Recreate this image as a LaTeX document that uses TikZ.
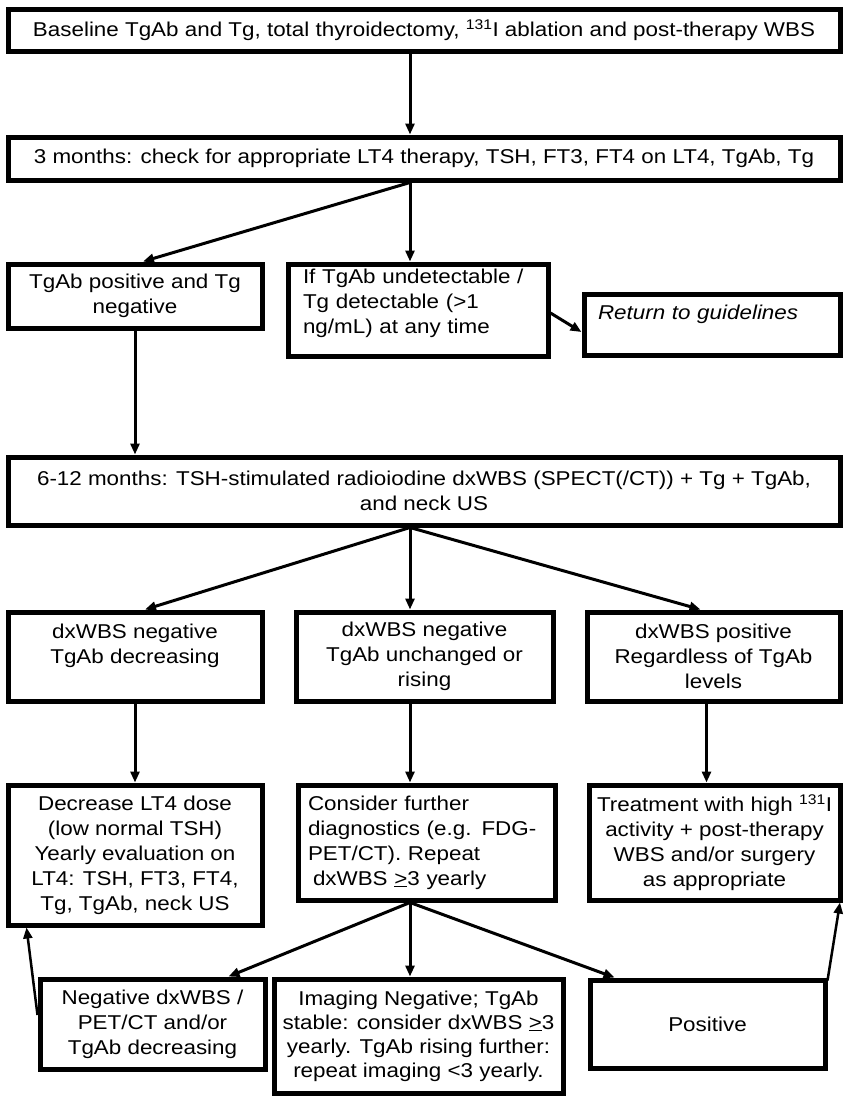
\documentclass[tikz,border=0pt]{standalone}
\usepackage{fontspec}
\setmainfont{Liberation Sans}[FakeStretch=1.12]
\usetikzlibrary{arrows.meta}

\begin{document}
\begin{tikzpicture}[x=1pt, y=-1pt,
    box/.style={draw, line width=5pt, align=center, inner sep=3pt, font=\fontsize{20}{25}\selectfont},
    arr/.style={line width=3pt, -{Triangle[length=11pt, width=9pt]}}]
    \useasboundingbox (0,0) rectangle (845,1096);
    \coordinate (spine) at (410,0);

    \node[box, minimum width=832, minimum height=42] (base) at (424,30) {Baseline TgAb and Tg, total thyroidectomy, \textsuperscript{131}I ablation and post-therapy WBS};
    \node[box, minimum width=832, minimum height=43] (check) at (424,158.5) {3 months: check for appropriate LT4 therapy, TSH, FT3, FT4 on LT4, TgAb, Tg};

    \node[box, minimum width=254, minimum height=64] (pos) at (135,296) {TgAb positive and Tg\\negative};
    \node[box, align=left, text width=230, inner xsep=15, minimum height=92] (undet) at (418,310) {If TgAb undetectable /\\Tg detectable (>1\\ng/mL) at any time\\[-8pt]\mbox{}};
    \node[box, align=left, text width=228, inner xsep=14, minimum height=61, font=\fontsize{20}{25}\selectfont\itshape] (guide) at (712,324.5) {Return to guidelines\\\mbox{}};

    \node[box, minimum width=832, minimum height=68] (scan) at (424,491) {6-12 months: TSH-stimulated radioiodine dxWBS (SPECT(/CT)) + Tg + TgAb,\\and neck US};

    \node[box, minimum width=254, minimum height=89] (negdec) at (135,656.5) {dxWBS negative\\TgAb decreasing\\\mbox{}};
    \node[box, minimum width=257, minimum height=89] (negrise) at (424.5,656.5) {dxWBS negative\\TgAb unchanged or\\rising};
    \node[box, minimum width=253, minimum height=89] (posall) at (713.5,656.5) {dxWBS positive\\Regardless of TgAb\\levels};

    \node[box, minimum width=254, minimum height=140] (lower) at (135,855) {Decrease LT4 dose\\(low normal TSH)\\Yearly evaluation on\\LT4: TSH, FT3, FT4,\\Tg, TgAb, neck US};
    \node[box, align=left, text width=237, inner xsep=10, minimum height=115] (further) at (426.5,842.5) {Consider further\\\mbox{diagnostics (e.g. FDG-}\\PET/CT). Repeat\\\hspace*{5pt}dxWBS \underline{>}3 yearly};
    \node[box, minimum width=251, minimum height=115] (treat) at (714.5,842.5) {Treatment with high \textsuperscript{131}I\\activity + post-therapy\\WBS and/or surgery\\as appropriate};

    \node[box, minimum width=225, minimum height=90] (stop) at (152.5,1024) {Negative dxWBS /\\PET/CT and/or\\TgAb decreasing};
    \node[box, minimum width=289, minimum height=114, font=\fontsize{20}{24}\selectfont] (watch) at (418.5,1036) {Imaging Negative; TgAb\\stable: consider dxWBS \underline{>}3\\yearly. TgAb rising further:\\repeat imaging <3 yearly.};
    \node[box, minimum width=235, minimum height=88] (found) at (707.5,1024) {Positive};

    \draw[arr] (base.south -| spine) -- (check.north -| spine);
    \draw[arr] (check.south -| spine) -- ([xshift=8pt]pos.north);
    \draw[arr] (check.south -| spine) -- (undet.north -| spine);
    \draw[arr] ([yshift=-3pt]undet.east) -- ([yshift=-7.5pt]guide.west);
    \draw[arr] (pos.south) -- (pos.south |- scan.north);
    \draw[arr] (scan.south -| spine) -- ([xshift=10pt]negdec.north);
    \draw[arr] (scan.south -| spine) -- (negrise.north -| spine);
    \draw[arr] (scan.south -| spine) -- ([xshift=-13pt]posall.north);
    \draw[arr] (negdec.south) -- (lower.north);
    \draw[arr] (negrise.south -| spine) -- (further.north -| spine);
    \draw[arr] ([xshift=-7pt]posall.south) -- ([xshift=-8pt]treat.north);
    \draw[arr] (further.south -| spine) -- ([xshift=-39pt]stop.north east);
    \draw[arr] (further.south -| spine) -- (watch.north -| spine);
    \draw[arr] (further.south -| spine) -- ([xshift=27pt]found.north west);
    \draw[arr, line width=2.5pt] ([yshift=9pt]stop.west) -- ([xshift=21pt]lower.south west);
    \draw[arr, line width=2.5pt] ([yshift=-3pt]found.north east) -- ([xshift=-2.5pt]treat.south east);
\end{tikzpicture}
\end{document}
